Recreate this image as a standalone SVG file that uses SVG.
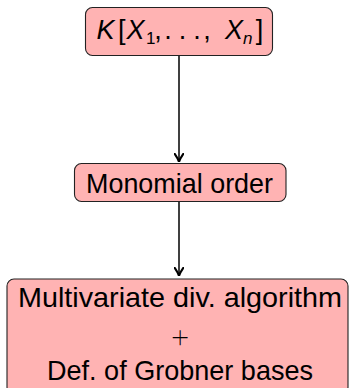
<svg xmlns="http://www.w3.org/2000/svg" width="350" height="388" viewBox="0 0 350 388">
<defs>
<style>
.box{fill:#ffb3b3;stroke:#222;stroke-width:1.1}
.t{font-family:"Liberation Sans",Arial,sans-serif;font-size:28px;fill:#000;text-anchor:middle}
.m{font-family:"Liberation Sans",Arial,sans-serif;font-size:27px;fill:#000}
.c{text-anchor:middle}
.i{font-style:italic}
.s{font-size:17px}
.plus{font-family:"Noto Sans","DejaVu Sans",sans-serif;font-size:32px;font-weight:200;fill:#000;text-anchor:middle}
.edge{stroke:#000;stroke-width:1.5;fill:none;marker-end:url(#arr)}
</style>
<marker id="arr" viewBox="0 0 10 10" refX="9.5" refY="5" markerWidth="9.5" markerHeight="9.5" markerUnits="userSpaceOnUse" orient="auto">
<path d="M1,0.5 Q6,4 9.5,5 Q6,6 1,9.5" fill="none" stroke="#000" stroke-width="2.2" stroke-linecap="round"/>
</marker>
</defs>
<rect width="350" height="388" fill="#fff"/>
<g id="connectors">
<line class="edge" x1="179" y1="56" x2="179" y2="162"/>
<line class="edge" x1="179" y1="202" x2="179" y2="276"/>
</g>
<g id="node-ring">
<rect class="box" x="85.5" y="7.5" width="187" height="48" rx="7"/>
<text class="m i" x="96.5" y="39">K</text>
<text class="m" x="118" y="39">[</text>
<text class="m i" x="126.5" y="39">X</text>
<text class="m s" x="146" y="43.5">1</text>
<text class="m c" x="158" y="39">,</text>
<text class="m c" x="168" y="39">.</text>
<text class="m c" x="182.5" y="39">.</text>
<text class="m c" x="197" y="39">.</text>
<text class="m c" x="207" y="39">,</text>
<text class="m i" x="225" y="39">X</text>
<text class="m s i" x="243" y="43.5">n</text>
<text class="m c" x="259.5" y="39">]</text>
</g>
<g id="node-order">
<rect class="box" x="74.5" y="163.5" width="211.5" height="38" rx="7"/>
<text class="t" x="179.5" y="193" textLength="187" lengthAdjust="spacingAndGlyphs">Monomial order</text>
</g>
<g id="node-division">
<rect class="box" x="7" y="279" width="341" height="115" rx="7"/>
<text class="t" x="180" y="307" textLength="324" lengthAdjust="spacingAndGlyphs">Multivariate div. algorithm</text>
<text class="plus" x="180" y="349">+</text>
<text class="t" x="180" y="380" textLength="266" lengthAdjust="spacingAndGlyphs">Def. of Grobner bases</text>
</g>
</svg>
